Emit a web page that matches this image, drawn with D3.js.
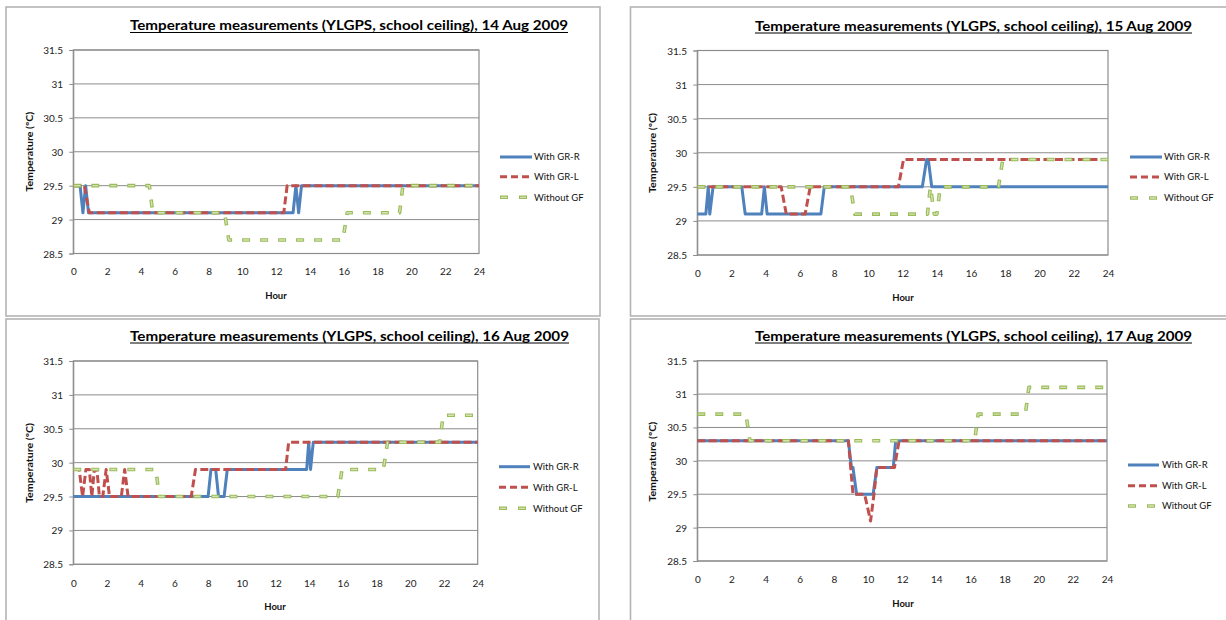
<!DOCTYPE html>
<html><head><meta charset="utf-8">
<script src="https://cdn.jsdelivr.net/npm/d3@7"></script>
<style>
body{margin:0;background:#fff;}
svg{display:block;font-family:Lato,'Open Sans','Liberation Sans',sans-serif;}
</style>
</head><body>
<svg id="c" width="1226" height="620"></svg>
<script>
// ---------- data ----------
const seriesNames = ["With GR-R", "With GR-L", "Without GF"];
const dates = ["14 Aug 2009", "15 Aug 2009", "16 Aug 2009", "17 Aug 2009"];
const xTicks = [0, 2, 4, 6, 8, 10, 12, 14, 16, 18, 20, 22, 24];
const yTicks = [28.5, 29, 29.5, 30, 30.5, 31, 31.5];

// [hour, temperature °C]
const aug14GrR = [[0,29.5],[0.4,29.5],[0.57,29.1],[0.73,29.5],[0.9,29.1],[13.0,29.1],[13.17,29.5],[13.33,29.1],[13.5,29.5],[24,29.5]];
const aug14GrL = [[0,29.5],[0.65,29.5],[0.95,29.1],[12.45,29.1],[12.65,29.5],[24,29.5]];
const aug14NoGF = [[0,29.5],[4.5,29.5],[4.7,29.1],[8.95,29.1],[9.2,28.7],[15.95,28.7],[16.2,29.1],[19.3,29.1],[19.5,29.5],[24,29.5]];

const aug15GrR = [[0,29.1],[0.5,29.1],[0.64,29.5],[0.73,29.1],[0.92,29.5],[2.6,29.5],[2.8,29.1],[3.76,29.1],[3.92,29.5],[4.08,29.1],[7.22,29.1],[7.42,29.5],[13.15,29.5],[13.4,29.9],[13.5,29.9],[13.7,29.5],[24,29.5]];
const aug15GrL = [[0,29.5],[4.9,29.5],[5.2,29.1],[6.3,29.1],[6.6,29.5],[11.75,29.5],[12.05,29.9],[24,29.9]];
const aug15NoGF = [[0,29.5],[8.95,29.5],[9.2,29.1],[13.45,29.1],[13.62,29.5],[13.85,29.1],[14.0,29.1],[14.2,29.5],[17.6,29.5],[17.85,29.9],[24,29.9]];

const aug16GrR = [[0,29.5],[8.0,29.5],[8.17,29.9],[8.45,29.9],[8.62,29.5],[8.95,29.5],[9.14,29.9],[13.85,29.9],[13.97,30.3],[14.08,29.9],[14.24,30.3],[24,30.3]];
const aug16GrL = [[0,29.9],[0.35,29.9],[0.55,29.5],[0.75,29.9],[0.95,29.9],[1.1,29.5],[1.25,29.9],[1.4,29.9],[1.55,29.5],[1.75,29.5],[1.95,29.9],[2.15,29.5],[2.85,29.5],[3.05,29.9],[3.25,29.5],[7.0,29.5],[7.25,29.9],[12.6,29.9],[12.78,30.3],[24,30.3]];
const aug16NoGF = [[0,29.9],[4.9,29.9],[5.1,29.5],[15.7,29.5],[15.95,29.9],[18.4,29.9],[18.65,30.3],[21.75,30.3],[21.95,30.7],[24,30.7]];

const aug17GrR = [[0,30.3],[8.85,30.3],[9.03,29.9],[9.12,29.9],[9.33,29.5],[10.3,29.5],[10.52,29.9],[11.48,29.9],[11.62,30.3],[24,30.3]];
const aug17GrL = [[0,30.3],[8.85,30.3],[9.12,29.5],[9.8,29.5],[10.15,29.1],[10.35,29.5],[10.52,29.9],[11.55,29.9],[11.82,30.3],[24,30.3]];
const aug17NoGF = [[0,30.7],[2.85,30.7],[3.08,30.3],[16.25,30.3],[16.45,30.7],[19.22,30.7],[19.42,31.1],[24,31.1]];

const panelSeries = [
  [aug14GrR, aug14GrL, aug14NoGF],
  [aug15GrR, aug15GrL, aug15NoGF],
  [aug16GrR, aug16GrL, aug16NoGF],
  [aug17GrR, aug17GrL, aug17NoGF]
];

// ---------- layout ----------
const layouts = [
  {box:[6,7,600,316], plot:[73.3,50,479,253.5], title:[130,568,30], xLabY:275, hour:[276,299], yLab:[29.5,151.7], yTickX:63, leg:[500,532,534,[157,176.7,197.3]]},
  {box:[630.5,7,1240,316], plot:[697.3,50.5,1108,255], title:[755,1192,30.5], xLabY:277, hour:[903,301], yLab:[652.3,153], yTickX:687, leg:[1130,1162,1164,[157,177,198]]},
  {box:[6,319,599,640], plot:[73.3,361,477.7,564.3], title:[130,569,340.5], xLabY:587, hour:[275,610], yLab:[29.5,463], yTickX:63, leg:[499,530,533,[466.7,487.3,508.3]]},
  {box:[630.5,319,1240,640], plot:[697.3,360.7,1107,561], title:[755,1192,340.5], xLabY:583, hour:[903,606.5], yLab:[652.3,461.7], yTickX:687, leg:[1128,1159,1162,[465,485.7,506]]}
];

const blue = "#4F81BD", red = "#C0504D", greenOut = "#9BBB59", greenIn = "#d3e3b4";
const svg = d3.select("#c");

function drawSeries(g, data, idx, line) {
  if (idx === 0) {
    g.append("path").attr("d", line(data)).attr("fill","none").attr("stroke",blue)
      .attr("stroke-width",3).attr("stroke-linejoin","round");
  } else if (idx === 1) {
    g.append("path").attr("d", line(data)).attr("fill","none").attr("stroke",red)
      .attr("stroke-width",3).attr("stroke-dasharray","8,3.5").attr("stroke-linejoin","round");
  } else {
    g.append("path").attr("d", line(data)).attr("fill","none").attr("stroke",greenOut)
      .attr("stroke-width",3.6).attr("stroke-dasharray","8,10").attr("stroke-linejoin","round");
    g.append("path").attr("d", line(data)).attr("fill","none").attr("stroke",greenIn)
      .attr("stroke-width",1.4).attr("stroke-dasharray","6,12").attr("stroke-dashoffset",-1)
      .attr("stroke-linejoin","round");
  }
}

layouts.forEach((L, pi) => {
  const g = svg.append("g");
  const [bx0, by0, bx1, by1] = L.box;
  g.append("rect").attr("x",bx0).attr("y",by0).attr("width",bx1-bx0).attr("height",by1-by0)
    .attr("fill","#fff").attr("stroke","#b4b4b4").attr("stroke-width",1.6);

  const [px0, py0, px1, py1] = L.plot;
  const x = d3.scaleLinear().domain([0,24]).range([px0,px1]);
  const y = d3.scaleLinear().domain([28.5,31.5]).range([py1,py0]);

  // gridlines
  g.append("g").selectAll("line").data(yTicks).join("line")
    .attr("x1",px0).attr("x2",px1).attr("y1",d=>y(d)).attr("y2",d=>y(d))
    .attr("stroke","#8c8c8c").attr("stroke-width",1);
  g.append("rect").attr("x",px0).attr("y",py0).attr("width",px1-px0).attr("height",py1-py0)
    .attr("fill","none").attr("stroke","#8c8c8c").attr("stroke-width",1.2);

  // y axis
  const yAxis = d3.axisLeft(y).tickValues(yTicks).tickSize(4).tickPadding(5).tickFormat(d=>String(d));
  const ya = g.append("g").attr("transform",`translate(${px0},0)`).call(yAxis);
  ya.select(".domain").attr("stroke","#8c8c8c");
  ya.selectAll(".tick line").attr("stroke","#8c8c8c");
  ya.selectAll("text").attr("font-size",10).attr("fill","#222").attr("font-family","Lato, sans-serif")
    .attr("x", -(px0 - L.yTickX)).attr("dy","0.35em");

  // x axis labels
  const xAxis = d3.axisBottom(x).tickValues(xTicks).tickSize(0).tickPadding(0).tickFormat(d=>String(d));
  const xa = g.append("g").attr("transform",`translate(0,${py1})`).call(xAxis);
  xa.select(".domain").remove();
  xa.selectAll("text").attr("font-size",10).attr("fill","#222").attr("font-family","Lato, sans-serif")
    .attr("y", L.xLabY - py1).attr("dy",0);

  // series
  const line = d3.line().x(d=>x(d[0])).y(d=>y(d[1]));
  const sg = g.append("g");
  panelSeries[pi].forEach((data, si) => drawSeries(sg, data, si, line));

  // title
  const [tx0, tx1, ty] = L.title;
  g.append("text").attr("x",tx0).attr("y",ty).attr("font-size",14).attr("font-weight","bold")
    .attr("fill","#000").attr("textLength",tx1-tx0).attr("lengthAdjust","spacingAndGlyphs")
    .text(`Temperature measurements (YLGPS, school ceiling),  ${dates[pi]}`);
  g.append("line").attr("x1",tx0).attr("x2",tx1).attr("y1",ty+2.5).attr("y2",ty+2.5)
    .attr("stroke","#000").attr("stroke-width",1.2);

  // axis titles
  g.append("text").attr("x",L.hour[0]).attr("y",L.hour[1]).attr("text-anchor","middle")
    .attr("font-size",9.5).attr("font-weight","bold").attr("fill","#111").text("Hour");
  g.append("text").attr("transform",`translate(${L.yLab[0]},${L.yLab[1]}) rotate(-90)`)
    .attr("text-anchor","middle").attr("dy","0.35em").attr("font-size",9.5).attr("font-weight","bold")
    .attr("fill","#111").attr("textLength",80).attr("lengthAdjust","spacingAndGlyphs")
    .text("Temperature (ºC)");

  // legend
  const [lx0, lx1, ltx, lys] = L.leg;
  seriesNames.forEach((name, si) => {
    const ly = lys[si];
    if (si === 0) {
      g.append("line").attr("x1",lx0).attr("x2",lx1).attr("y1",ly).attr("y2",ly)
        .attr("stroke",blue).attr("stroke-width",3);
    } else if (si === 1) {
      g.append("line").attr("x1",lx0).attr("x2",lx1).attr("y1",ly).attr("y2",ly)
        .attr("stroke",red).attr("stroke-width",3).attr("stroke-dasharray","7,4");
    } else {
      g.append("line").attr("x1",lx0).attr("x2",lx1).attr("y1",ly).attr("y2",ly)
        .attr("stroke",greenOut).attr("stroke-width",3.4).attr("stroke-dasharray","8,11");
      g.append("line").attr("x1",lx0).attr("x2",lx1).attr("y1",ly).attr("y2",ly)
        .attr("stroke",greenIn).attr("stroke-width",1.3).attr("stroke-dasharray","6,13").attr("stroke-dashoffset",-1);
    }
    g.append("text").attr("x",ltx).attr("y",ly).attr("dy","0.35em").attr("font-size",9.5)
      .attr("fill","#111").text(name);
  });
});
</script>
</body></html>
